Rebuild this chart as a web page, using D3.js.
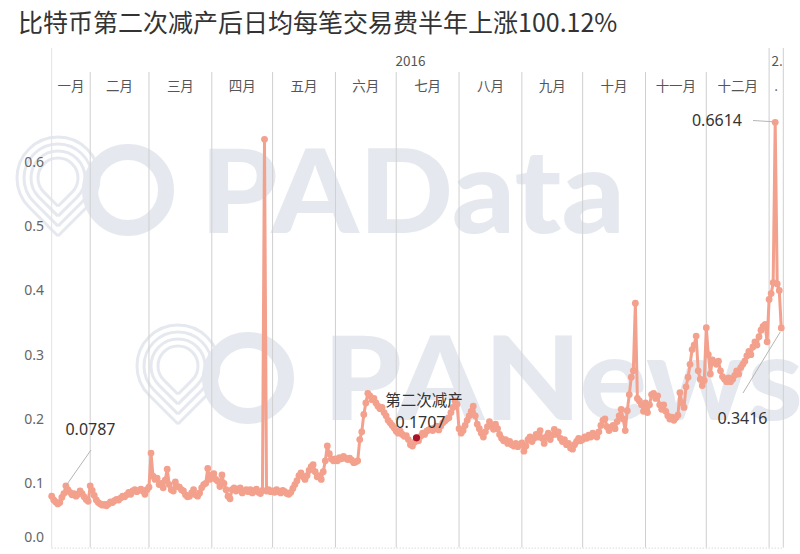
<!DOCTYPE html>
<html><head><meta charset="utf-8">
<script src="https://cdn.jsdelivr.net/npm/d3@7"></script>
<style>
html,body{margin:0;padding:0;background:#fff;}
svg{display:block;font-family:"Noto Sans","Noto Sans CJK SC",sans-serif;}
</style></head>
<body>
<svg id="chart" width="800" height="554"></svg>
<script>
// ---- data (daily average fee per transaction, BTC) ----
const startDate = "2016-01-13";
const jan16 = [0.080,0.074,0.071,0.068,0.070,0.078,0.084,0.096,0.090,0.086,0.082,0.084,0.080,0.083,0.088,0.084,0.079,0.075,0.072];
const feb16 = [0.096,0.089,0.081,0.074,0.070,0.068,0.066,0.067,0.065,0.068,0.071,0.070,0.073,0.075,0.074,0.077,0.080,0.079,0.082,0.086,0.083,0.088,0.090,0.087,0.089,0.091,0.088,0.083,0.090];
const mar16 = [0.094,0.147,0.111,0.106,0.108,0.098,0.100,0.093,0.105,0.122,0.098,0.090,0.088,0.102,0.095,0.094,0.090,0.088,0.082,0.079,0.080,0.085,0.090,0.082,0.080,0.085,0.093,0.098,0.100,0.123,0.106];
const apr16 = [0.113,0.115,0.106,0.103,0.095,0.113,0.100,0.090,0.080,0.076,0.090,0.093,0.088,0.090,0.093,0.085,0.088,0.090,0.087,0.090,0.085,0.088,0.091,0.086,0.084,0.089,0.635,0.088,0.090,0.087];
const may16 = [0.088,0.086,0.090,0.087,0.085,0.089,0.087,0.084,0.083,0.086,0.092,0.098,0.104,0.112,0.116,0.110,0.106,0.112,0.120,0.126,0.129,0.118,0.110,0.112,0.106,0.118,0.135,0.158,0.146,0.138,0.135];
const jun16 = [0.138,0.135,0.140,0.138,0.142,0.139,0.137,0.139,0.136,0.132,0.133,0.135,0.168,0.180,0.207,0.225,0.240,0.236,0.230,0.232,0.225,0.220,0.216,0.218,0.210,0.205,0.198,0.194,0.190,0.186];
const jul16 = [0.181,0.178,0.181,0.176,0.173,0.174,0.168,0.160,0.158,0.164,0.1707,0.166,0.173,0.178,0.176,0.181,0.183,0.185,0.182,0.186,0.189,0.183,0.189,0.194,0.197,0.200,0.202,0.210,0.218,0.228,0.223];
const aug16 = [0.185,0.178,0.182,0.190,0.198,0.205,0.212,0.220,0.205,0.192,0.185,0.178,0.172,0.180,0.188,0.196,0.190,0.184,0.192,0.185,0.176,0.170,0.166,0.168,0.162,0.165,0.160,0.158,0.162,0.157,0.160];
const sep16 = [0.163,0.150,0.158,0.168,0.172,0.165,0.170,0.176,0.172,0.182,0.170,0.162,0.172,0.178,0.168,0.175,0.184,0.176,0.180,0.170,0.165,0.168,0.160,0.162,0.155,0.153,0.160,0.165,0.170,0.166];
const oct16 = [0.168,0.172,0.170,0.175,0.172,0.178,0.175,0.172,0.180,0.190,0.198,0.200,0.188,0.182,0.186,0.190,0.185,0.196,0.205,0.215,0.200,0.182,0.213,0.238,0.265,0.275,0.380,0.232,0.228,0.222,0.212];
const nov16 = [0.225,0.210,0.222,0.238,0.240,0.232,0.236,0.222,0.215,0.222,0.212,0.205,0.200,0.203,0.198,0.202,0.206,0.241,0.225,0.218,0.250,0.265,0.285,0.308,0.315,0.329,0.275,0.262,0.252,0.260];
const dec16 = [0.342,0.300,0.270,0.292,0.288,0.285,0.290,0.275,0.266,0.262,0.258,0.264,0.258,0.262,0.268,0.275,0.270,0.280,0.285,0.290,0.298,0.305,0.300,0.312,0.320,0.315,0.328,0.338,0.344,0.347,0.320];
const jan17 = [0.386,0.395,0.412,0.6614,0.410,0.400,0.3416];

const monthNames = ["一月","二月","三月","四月","五月","六月","七月","八月","九月","十月","十一月","十二月"];
const yTicks = [0.0,0.1,0.2,0.3,0.4,0.5,0.6];
const titleText = "比特币第二次减产后日均每笔交易费半年上涨100.12%";
const halvingDate = "2016-07-11";
const halvingLabel = "第二次减产";

// ---- build ----
const parse = d3.timeParse("%Y-%m-%d");
const t0 = parse(startDate);
const values = [].concat(jan16,feb16,mar16,apr16,may16,jun16,jul16,aug16,sep16,oct16,nov16,dec16,jan17);
const data = values.map((v,i)=>({date:d3.timeDay.offset(t0,i), value:v}));

const svg = d3.select("#chart");
const pL = 51.7, pR = 783.3, pT = 48, pB = 547.6;
const x = d3.scaleTime().domain([t0, d3.timeDay.offset(t0, values.length)]).range([pL, pR]);
const y = d3.scaleLinear().domain([0,0.6]).range([pB, 161.8]);

// ---- watermark ----
const wm = "#e5e9ef";
const wmG = svg.append("g");
function logo(cx, cy){
  wmG.append("circle").attr("cx",cx).attr("cy",cy).attr("r",38)
    .attr("fill","none").attr("stroke",wm).attr("stroke-width",16);
  const tx = cx-70, ty = cy-12;
  [20,27,34,41].forEach(r=>{
    const p = d3.path();
    const s = Math.SQRT1_2;
    p.moveTo(tx, ty + r*Math.SQRT2);
    p.lineTo(tx - r*s, ty + r*s);
    p.arc(tx, ty, r, Math.PI*0.75, Math.PI*0.25, false);
    p.lineTo(tx, ty + r*Math.SQRT2);
    wmG.append("path").attr("d",p.toString()).attr("fill","none")
      .attr("stroke",wm).attr("stroke-width",3);
  });
}
logo(128,190);
logo(248,378);
wmG.append("text").attr("x",200).attr("y",233).text("PAData")
  .attr("font-family","Lato, 'Open Sans', sans-serif").attr("font-weight",900)
  .attr("font-size",116).attr("fill",wm).attr("textLength",425).attr("lengthAdjust","spacingAndGlyphs");
wmG.append("text").attr("x",323).attr("y",420).text("PANews")
  .attr("font-family","Lato, 'Open Sans', sans-serif").attr("font-weight",900)
  .attr("font-size",116).attr("fill",wm).attr("textLength",480).attr("lengthAdjust","spacingAndGlyphs");

// ---- title ----
svg.append("text").attr("x",18).attr("y",32).text(titleText)
  .attr("font-family","'Noto Sans CJK SC','Noto Sans',sans-serif")
  .attr("font-size",25).attr("fill","#333");

// ---- header & grid ----
const grid = svg.append("g");
const months = d3.timeMonth.range(d3.timeMonth.floor(t0), x.domain()[1]);
months.forEach(m=>{
  if (m <= t0) return;
  const isYear = m.getMonth()===0;
  grid.append("line").attr("x1",x(m)).attr("x2",x(m))
    .attr("y1", isYear ? pT : 72).attr("y2", pB)
    .attr("stroke","#cfcfcf").attr("stroke-width",1);
});
grid.append("line").attr("x1",pL).attr("x2",pL).attr("y1",pT).attr("y2",pB)
  .attr("stroke","#e2e2e2");
grid.append("line").attr("x1",pR).attr("x2",pR).attr("y1",pT).attr("y2",pB)
  .attr("stroke","#cfcfcf");
grid.append("line").attr("x1",pL).attr("x2",pR).attr("y1",pB+0.5).attr("y2",pB+0.5)
  .attr("stroke","#c8c8c8").attr("stroke-dasharray","1,2");

// month labels
const hdr = svg.append("g").attr("font-family","'Noto Sans CJK SC','Noto Sans',sans-serif")
  .attr("font-size",13.5).attr("fill","#555").attr("text-anchor","middle");
months.forEach(m=>{
  const a = Math.max(x(m), pL);
  const b = Math.min(x(d3.timeMonth.offset(m,1)), pR);
  const label = (m.getFullYear()===2017) ? "." : monthNames[m.getMonth()];
  hdr.append("text").attr("x",(a+b)/2).attr("y",91).text(label);
});
hdr.append("text").attr("x",(pL + x(new Date(2017,0,1)))/2).attr("y",66).text("2016");
hdr.append("text").attr("x",(x(new Date(2017,0,1))+pR)/2+1).attr("y",66).text("2.");

// y axis labels
const yl = svg.append("g").attr("font-size",14).attr("fill","#666").attr("text-anchor","end");
yTicks.forEach(t=>{
  yl.append("text").attr("x",44).attr("y",Math.min(y(t),537)+5).text(d3.format(".1f")(t));
});

// ---- series ----
const col = "#f3a08d";
const line = d3.line().x(d=>x(d.date)).y(d=>y(d.value));
svg.append("path").datum(data).attr("d",line).attr("fill","none")
  .attr("stroke",col).attr("stroke-width",3).attr("stroke-linejoin","round");
svg.append("g").selectAll("circle").data(data).join("circle")
  .attr("cx",d=>x(d.date)).attr("cy",d=>y(d.value)).attr("r",3.4).attr("fill",col);

// ---- annotations ----
const ann = svg.append("g").attr("font-size",16).attr("fill","#333");
const annLine = (x1,y1,x2,y2)=>svg.append("line").attr("x1",x1).attr("y1",y1).attr("x2",x2).attr("y2",y2)
  .attr("stroke","#b5b5b5").attr("stroke-width",1);

const pA = data[7];
annLine(91,450,x(pA.date),y(pA.value));
ann.append("text").attr("x",90.5).attr("y",435).attr("text-anchor","middle").text("0.0787");
const pPeak = data.reduce((a,b)=>b.value>a.value?b:a);
annLine(753,120.5,x(pPeak.date)-1,y(pPeak.value)-0.5);
ann.append("text").attr("x",742).attr("y",126).attr("text-anchor","end").text(d3.format(".4f")(pPeak.value));
const pLast = data[data.length-1];
annLine(743,393,x(pLast.date)-1,y(pLast.value)+4);
ann.append("text").attr("x",742.5).attr("y",424).attr("text-anchor","middle").text(d3.format(".4f")(pLast.value));
const pH = data.find(d=>+d.date===+parse(halvingDate));
svg.append("circle").attr("cx",x(pH.date)).attr("cy",y(pH.value)).attr("r",3.6).attr("fill","#a8152a");
ann.append("text").attr("x",424).attr("y",406).attr("text-anchor","middle")
  .attr("font-family","'Noto Sans CJK SC',sans-serif").attr("font-size",15.5).text(halvingLabel);
ann.append("text").attr("x",420.5).attr("y",428).attr("text-anchor","middle").text(d3.format(".4f")(pH.value));
</script>
</body></html>
